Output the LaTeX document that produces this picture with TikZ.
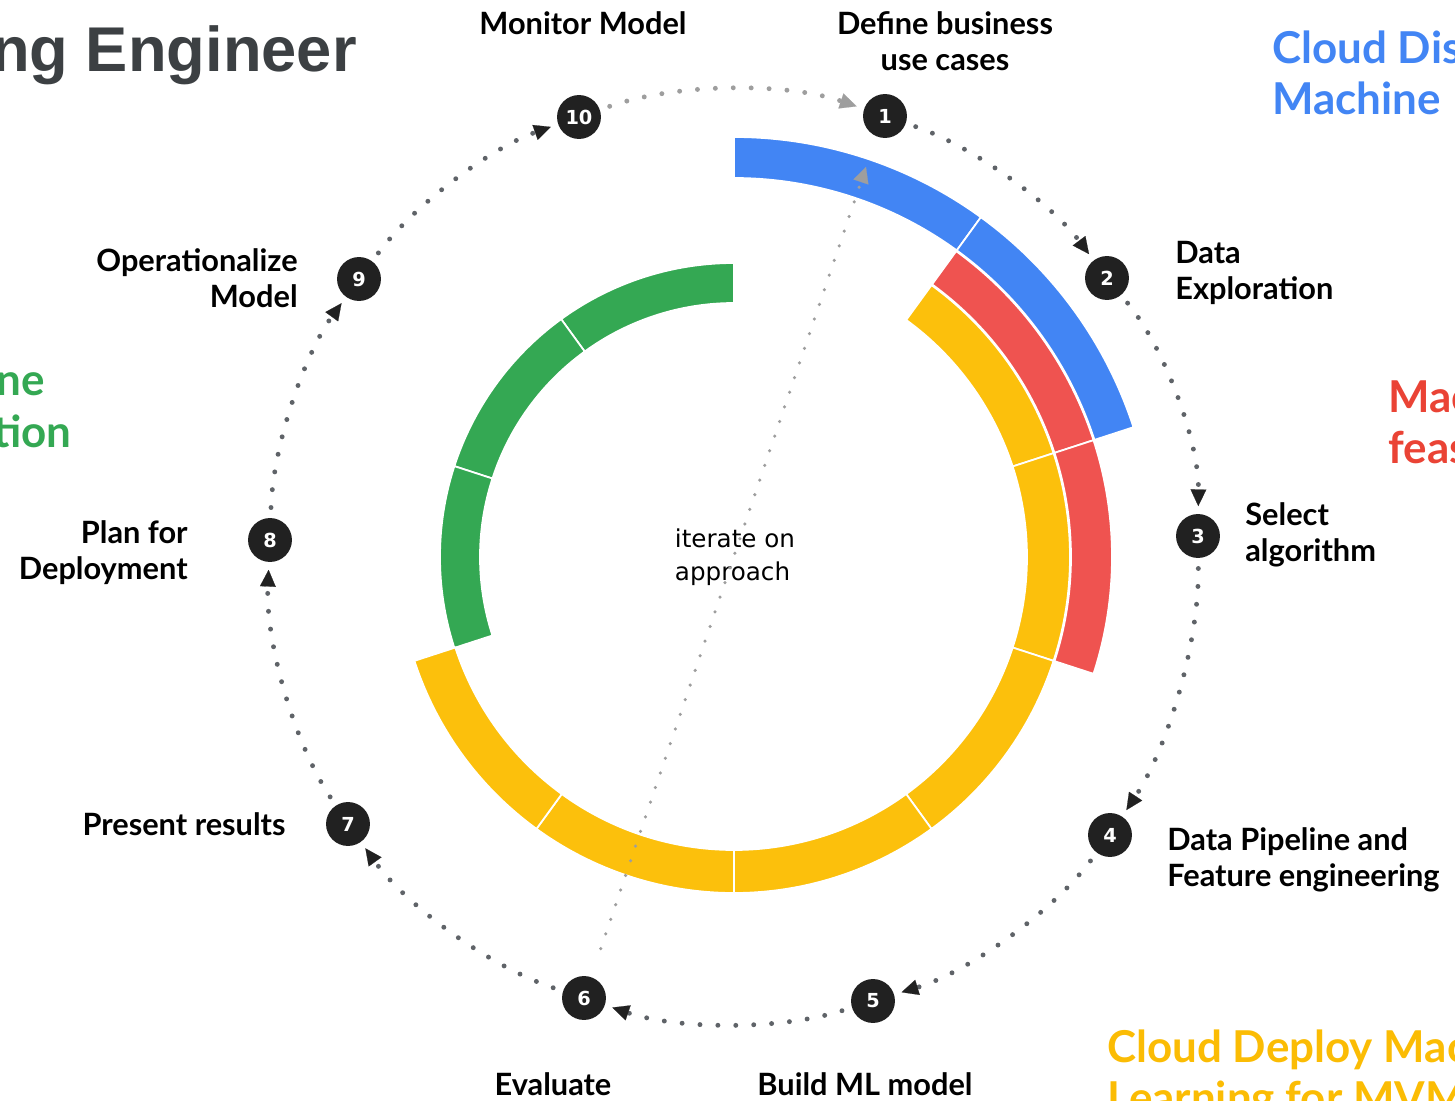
\documentclass[tikz,border=0pt]{standalone}
\usepackage{fontspec}
\setmainfont{Lato}
\newfontfamily\titlefont{Liberation Sans}
\newfontfamily\numfont{DejaVu Sans}
\usepackage{tikz}
\usetikzlibrary{arrows.meta}
\usepackage{xcolor}
\definecolor{gblue}{HTML}{4285F4}
\definecolor{gred}{HTML}{EA4335}
\definecolor{ringred}{HTML}{EF5350}
\definecolor{gyellow}{HTML}{FBBC04}
\definecolor{ringyellow}{HTML}{FCC00C}
\definecolor{ggreen}{HTML}{34A853}
\definecolor{badgeblack}{HTML}{212121}
\definecolor{dotgray}{HTML}{5F6368}
\definecolor{lightdot}{HTML}{9E9E9E}
\definecolor{titlegray}{HTML}{3C4043}

\begin{document}
\begin{tikzpicture}[x=0.02cm, y=0.02cm,
  ring/.style={draw=white, line width=1pt},
  badge/.style={circle, fill=badgeblack, text=white, minimum size=25pt, inner sep=0pt,
    font=\numfont\bfseries\fontsize{11}{13}\selectfont},
  steplabel/.style={font=\bfseries\fontsize{17.5}{20.5}\selectfont, inner sep=0pt},
  heading/.style={font=\bfseries\fontsize{25}{30}\selectfont, inner sep=0pt},
  cycle link/.style={dotgray, line width=2.8pt, line cap=round, dash pattern=on 0pt off 10.2pt,
    shorten <=18.5pt, shorten >=17pt, looseness=0.87,
    -{Triangle[length=9.5pt, width=9pt, line width=0.1pt, color=badgeblack]}},
  iterate link/.style={lightdot, line width=2pt, line cap=round, dash pattern=on 0pt off 8.8pt,
    -{Triangle[length=9pt, width=9pt, line width=0.1pt]}}]
\useasboundingbox (-734,-543) rectangle (721,557);
\clip (-734,-543) rectangle (721,557);

% rings: start/end angle, inner/outer radius, colour
\foreach \a/\b/\ri/\ro/\c in {90/126/254/294/ggreen, 126/162/254/294/ggreen, 162/198/254/294/ggreen,
    54/18/293/336/ringyellow, 18/-18/293/336/ringyellow, -18/-54/293/336/ringyellow,
    -54/-90/293/336/ringyellow, -90/-126/293/336/ringyellow, -126/-162/293/336/ringyellow,
    54/18/337/378/ringred, 18/-18/337/378/ringred,
    90/54/379/420/gblue, 54/18/379/420/gblue}
  \filldraw[ring, fill=\c] (\a:\ri) arc[start angle=\a, end angle=\b, radius=\ri]
    -- (\b:\ro) arc[start angle=\b, end angle=\a, radius=\ro] -- cycle;

% headings at the edges
\node[font=\titlefont\bfseries\fontsize{36}{40}\selectfont, text=titlegray, inner sep=0pt, anchor=base east] (title) at (-377,485) {ng Engineer};
\node[heading, text=gblue, anchor=base west] (disc1) at (538,494) {Cloud Dis};
\node[heading, text=gblue, anchor=base west] (disc2) at (538,442) {Machine};
\node[heading, text=ggreen, anchor=base east] (gr1) at (-689,162) {ne};
\node[heading, text=ggreen, anchor=base east] (gr2) at (-662,110) {tion};
\node[heading, text=gred, anchor=base west] (feas1) at (654,145) {Mac};
\node[heading, text=gred, anchor=base west] (feas2) at (654,94) {feas};
\node[heading, text=gyellow, anchor=base west] (dep1) at (373,-505) {Cloud Deploy Mac};
\node[heading, text=gyellow, anchor=base west] (dep2) at (373,-556) {Learning for MVM};

% numbered steps
\foreach \n/\x/\y in {1/151/441, 2/373/279, 3/464/21, 4/376/-278, 5/139/-444,
    6/-150/-441, 7/-386/-267, 8/-464/17, 9/-375/278, 10/-155/440}
  \node[badge] (b\n) at (\x,\y) {\n};

% dotted cycle
\draw[cycle link, lightdot, -{Triangle[length=9.5pt, width=9pt, line width=0.1pt, color=lightdot]}] (b10.center) to[bend left=19] (b1.center);
\foreach \s/\t/\bend in {1/2/17, 2/3/20, 3/4/17, 4/5/18, 5/6/18, 6/7/18, 7/8/18, 8/9/17, 9/10/17}
  \draw[cycle link] (b\s.center) to[bend left=\bend] (b\t.center);

% step labels
\node[steplabel, align=center] (l1) at (211,516) {Define business\\use cases};
\node[steplabel, align=left, anchor=west] (l2) at (441,284) {Data\\Exploration};
\node[steplabel, align=left, anchor=west] (l3) at (511,22) {Select\\algorithm};
\node[steplabel, align=left, anchor=west] (l4) at (433,-303) {Data Pipeline and\\Feature engineering};
\node[steplabel] (l5) at (131,-527) {Build ML model};
\node[steplabel] (l6) at (-181,-527) {Evaluate};
\node[steplabel, anchor=east] (l7) at (-448,-267) {Present results};
\node[steplabel, align=right, anchor=east] (l8) at (-546,4) {Plan for\\Deployment};
\node[steplabel, align=right, anchor=east] (l9) at (-436,279) {Operationalize\\Model};
\node[steplabel] (l10) at (-151,534) {Monitor Model};

% iterate back across the cycle
\node[font=\numfont\fontsize{14}{19}\selectfont, align=left, inner sep=0pt] (iter) at (1,0) {iterate on\\approach};
\coordinate (tip) at (132,390);
\draw[iterate link, shorten <=17pt] (b6) -- (tip);
\end{tikzpicture}
\end{document}
